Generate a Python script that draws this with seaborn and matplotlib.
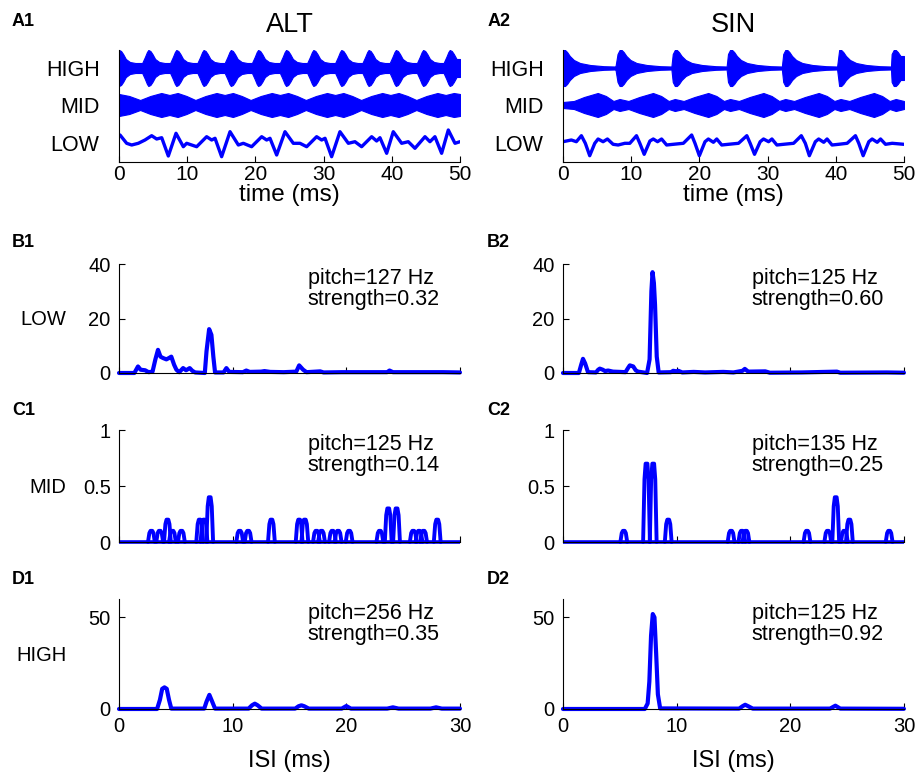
"""
Recreation of a two-column figure: band-limited waveforms of ALT and SIN
stimuli (row A) and the inter-spike-interval histograms for the LOW, MID
and HIGH channels (rows B-D).
"""

import pandas as pd
import seaborn as sns

from matplotlib import pyplot as plt

BLUE = '#0000ff'

# ---------------- row A: waveforms (time in ms) ----------------
row_names = ['HIGH', 'MID', 'LOW']
row_centers = [94, 57, 19]

# burst times of the HIGH channel
alt_high_bursts = [0.0, 4.3, 8.4, 12.4, 16.4, 20.4, 24.5, 28.5, 32.6, 36.6,
                   40.6, 44.6, 48.5]
sin_high_bursts = [0.0, 8.3, 16.4, 24.5, 32.6, 40.5, 48.5]

# envelope of one burst (offset ms, half amplitude)
alt_burst_offsets = [-0.9, -0.5, -0.2, 0.0, 0.3, 0.6, 1.0, 1.6, 2.4]
alt_burst_amps = [5, 11, 16, 18, 17, 14, 9, 6, 5]
sin_burst_offsets = [-0.6, -0.3, 0.0, 0.3, 0.6, 1.0, 1.6, 2.5, 4.0, 6.0,
                     7.6]
sin_burst_amps = [1.5, 14, 18, 18, 16, 12, 8, 5, 3, 1.8, 1.5]

# MID envelope (time, half amplitude)
alt_mid_t = [0, 1.5, 3.1, 4.6, 6.2, 7.4, 8.6, 9.9, 11.2, 12.7, 14.3, 15.5,
             16.7, 18.0, 19.3, 20.8, 22.4, 23.6, 24.8, 26.1, 27.4, 28.9,
             30.5, 31.7, 32.9, 34.2, 35.5, 37.0, 38.6, 39.8, 41.0, 42.3,
             43.6, 45.1, 46.7, 47.9, 49.1, 50]
alt_mid_a = [11, 9, 5, 9, 12, 10, 12, 9, 5, 9, 12, 10, 12, 9, 5, 9, 12, 10,
             12, 9, 5, 9, 12, 10, 12, 9, 5, 9, 12, 10, 12, 9, 5, 9, 12, 10,
             12, 11]
sin_mid_t = [0, 1.6, 3.1, 5.1, 6.3, 7.4, 8.3, 9.6, 11.2, 13.2, 14.4, 15.5,
             16.4, 17.7, 19.3, 21.3, 22.5, 23.6, 24.5, 25.8, 27.4, 29.4,
             30.6, 31.7, 32.6, 33.9, 35.5, 37.5, 38.7, 39.8, 40.7, 42.0,
             43.6, 45.6, 46.8, 47.9, 48.8, 50]
sin_mid_a = [3, 4, 8, 12, 9, 4, 6, 4, 8, 12, 9, 4, 6, 4, 8, 12, 9, 4, 6, 4,
             8, 12, 9, 4, 6, 4, 8, 12, 9, 4, 6, 4, 8, 12, 9, 4, 6, 4]

# LOW channel waveform
alt_low_t = [0.15, 1.12, 1.86, 2.83, 3.81, 4.79, 5.52, 6.26, 7.23, 8.36,
             9.43, 9.92, 11.39, 12.85, 13.59, 14.08, 15.05, 16.28, 17.5,
             18.23, 19.45, 20.92, 21.65, 22.14, 23.12, 24.34, 25.56, 26.54,
             27.52, 28.98, 29.72, 30.21, 31.18, 32.4, 33.63, 34.6, 35.58,
             37.05, 37.78, 38.27, 39.25, 40.22, 41.45, 42.42, 43.4, 44.87,
             45.6, 46.33, 47.31, 48.29, 49.27, 50.0]
alt_low_v = [27, 18.7, 17, 18.7, 22, 26.3, 23, 24.3, 6, 28.7, 15.3, 18.7,
             15.3, 25.3, 22, 23.7, 5.3, 30.3, 17, 18.7, 15.3, 25.3, 22, 23.7,
             7, 30.3, 18.7, 18.7, 15.3, 25.3, 22, 23.7, 5.3, 30.3, 18.7,
             20.3, 15.3, 25.3, 21, 24.3, 8.7, 30.3, 18.7, 20.3, 13.7, 25.3,
             20.3, 25.3, 8.7, 32, 18.7, 20.3]
sin_low_t = [0, 1.23, 1.96, 2.7, 3.28, 3.92, 4.66, 5.15, 5.88, 6.52, 7.35,
             8.09, 9.07, 9.8, 10.78, 11.27, 11.91, 12.75, 13.24, 13.87,
             14.46, 15.2, 16.18, 17.65, 18.87, 19.36, 20.0, 20.83, 21.32,
             22.06, 22.55, 23.28, 24.26, 25.74, 26.96, 27.45, 28.09, 28.92,
             29.41, 30.15, 30.64, 31.37, 32.35, 33.82, 34.95, 35.54, 36.13,
             37.01, 37.5, 38.24, 38.73, 39.46, 40.44, 41.67, 42.89, 43.38,
             44.02, 44.85, 45.34, 46.08, 46.57, 47.3, 48.28, 50]
sin_low_v = [20.3, 22, 20.3, 26.3, 18.7, 6.3, 18.7, 23, 20.3, 23, 17.7, 17,
             18.7, 18.7, 26.3, 18.7, 7.7, 21, 23, 20.3, 23, 17, 17.7, 18.7,
             27, 18.7, 6.3, 20.3, 23, 19.7, 23, 17, 17.7, 18.7, 26.3, 18.7,
             7.7, 20.3, 23, 20.3, 23, 17, 17.7, 18.7, 26.3, 18.7, 6.3, 20.3,
             23, 19.7, 23, 17, 17.7, 18.7, 26.3, 18.7, 6.3, 20.3, 23, 19.7,
             23, 17.7, 18.7, 17.7]

# ---------------- rows B-D: ISI histograms (ISI in ms) ----------------
b1_t = [0, 1.35, 1.67, 1.9, 2.3, 2.6, 2.95, 3.2, 3.43, 3.65, 3.87, 4.17,
        4.4, 4.6, 4.85, 5.05, 5.3, 5.64, 5.9, 6.22, 6.45, 6.7, 7.55, 7.7,
        7.93, 8.13, 8.3, 8.45, 9.2, 9.45, 9.7, 10.9, 11.2, 11.5, 12.5, 12.8,
        13.3, 14.5, 15.6, 15.85, 16.2, 16.5, 17.7, 18.0, 19.6, 21.5, 23.6,
        23.8, 24.1, 26.5, 28.5, 30]
b1_n = [0, 0, 2.4, 1.2, 1.0, 0.3, 0.5, 5, 8.5, 6, 5.5, 5, 5.5, 6, 3, 1.2,
        0.3, 1.8, 1.0, 1.8, 0.8, 0.2, 0, 8, 16.1, 14, 6, 0.2, 0.2, 1.8, 0.4,
        0.3, 0.9, 0.4, 0.5, 0.7, 0.4, 0.3, 0.5, 2.8, 1.2, 0.3, 0.6, 0.2, 0.3,
        0.3, 0.3, 0.9, 0.3, 0.3, 0.3, 0.2]
b2_t = [0, 1.4, 1.6, 1.76, 1.95, 2.2, 2.9, 3.1, 3.24, 3.5, 3.7, 3.97, 4.4,
        5.0, 5.5, 5.75, 5.88, 6.18, 6.4, 6.6, 7.4, 7.62, 7.78, 7.88, 8.0,
        8.1, 8.25, 8.42, 9.5, 9.7, 10.0, 10.15, 10.5, 11.5, 12.5, 14.1, 15.0,
        15.8, 16.0, 16.3, 17.8, 18.2, 21.0, 24.1, 24.4, 28.5, 30]
b2_n = [0, 0, 3, 5.2, 3.5, 0.3, 0.2, 1.2, 1.6, 1.2, 0.7, 0.9, 0.5, 0.4, 0.3,
        2, 2.8, 2.4, 1.0, 0.5, 0, 5, 30, 37, 33, 25, 6, 0.2, 0.3, 0.8, 0.6,
        0.8, 0.2, 0.4, 0.2, 0.4, 0.2, 0.8, 1.5, 0.5, 0.6, 0.1, 0.2, 0.5, 0.1,
        0.2, 0.1]

c1_peaks = [2.85, 3.58, 4.26, 4.70, 5.49, 7.10, 7.48, 7.98, 10.62, 11.36,
            13.41, 15.85, 16.35, 17.37, 17.82, 18.78, 19.28, 20.25, 22.95,
            23.69, 24.42, 25.89, 26.4, 26.8, 28.0]
c1_heights = [0.1, 0.1, 0.2, 0.1, 0.1, 0.2, 0.2, 0.4, 0.1, 0.1, 0.2, 0.2,
              0.2, 0.1, 0.1, 0.1, 0.1, 0.1, 0.1, 0.3, 0.3, 0.1, 0.1, 0.1,
              0.2]
c2_peaks = [5.35, 7.35, 7.94, 9.26, 14.79, 15.74, 16.1, 21.47, 23.3, 24.0,
            24.76, 25.2, 28.7]
c2_heights = [0.1, 0.7, 0.7, 0.2, 0.1, 0.1, 0.1, 0.1, 0.1, 0.4, 0.1, 0.2,
              0.1]

d1_t = [0, 3.35, 3.6, 3.8, 4.0, 4.2, 4.4, 4.6, 7.5, 7.7, 7.95, 8.2, 8.45,
        11.4, 11.7, 11.95, 12.2, 12.55, 15.5, 15.8, 16.05, 16.3, 16.7, 19.6,
        20.0, 20.4, 23.6, 24.1, 24.6, 27.4, 27.9, 28.4, 30]
d1_n = [0, 0, 5, 11, 11.8, 11, 5, 0.2, 0.2, 4, 7.7, 4, 0.2, 0.2, 2, 2.9, 2,
        0.2, 0.2, 1.5, 2, 1.5, 0.2, 0.2, 1.6, 0.2, 0.2, 0.9, 0.2, 0.2, 0.9,
        0.2, 0.2]
d2_t = [0, 7.2, 7.45, 7.6, 7.75, 7.9, 8.05, 8.2, 8.35, 8.55, 15.5, 15.8,
        16.03, 16.3, 16.7, 23.5, 23.97, 24.4, 30]
d2_n = [0, 0, 3, 15, 40, 51.8, 50, 30, 8, 0.3, 0.2, 1.5, 2.3, 1.5, 0.2, 0.2,
        1.8, 0.2, 0.1]

pitch_labels = [['pitch=127 Hz\nstrength=0.32', 'pitch=125 Hz\nstrength=0.60'],
                ['pitch=125 Hz\nstrength=0.14', 'pitch=135 Hz\nstrength=0.25'],
                ['pitch=256 Hz\nstrength=0.35', 'pitch=125 Hz\nstrength=0.92']]
isi_rows = ['LOW', 'MID', 'HIGH']
isi_ylims = [40, 1, 60]
isi_yticks = [[0, 20, 40], [0, 0.5, 1], [0, 50]]


def burst_envelope(bursts, offsets, amps):
    """Joins one read-off burst envelope per burst time into one series."""
    t, a = [], []
    for b in bursts:
        for o, v in zip(offsets, amps):
            if 0 <= b + o <= 50 and (not t or b + o > t[-1]):
                t.append(b + o)
                a.append(v)
    if t[-1] < 50:
        t.append(50)
        a.append(a[-1])
    return t, a


def peaks_frame(peaks, heights):
    """Each histogram spike as a narrow bump, one unit per spike."""
    rows = []
    for i, (p, h) in enumerate(zip(peaks, heights)):
        for o, f in zip([-0.3, -0.18, -0.08, 0.08, 0.18, 0.3],
                        [0, 0.8, 1, 1, 0.8, 0]):
            rows.append({'peak': i, 'ISI': p + o, 'n': h * f})
    return pd.DataFrame(rows)


def draw_waveforms(ax, high, mid, low_t, low_v, title):
    for (t, a), c in zip([high, mid], row_centers[:2]):
        ax.fill_between(t, [c - v for v in a], [c + v for v in a],
                        color=BLUE, lw=0.8)
    sns.lineplot(x=low_t, y=low_v, ax=ax, color=BLUE, lw=2.4,
                 estimator=None, solid_joinstyle='round')
    ax.set_xlim(0, 50)
    ax.set_ylim(0, 112)
    ax.set_xticks(range(0, 51, 10))
    ax.set_yticks(row_centers)
    ax.set_yticklabels(row_names)
    ax.tick_params(axis='y', length=0, pad=14, labelsize=15.5)
    ax.tick_params(axis='x', direction='in', length=4, labelsize=15,
                   pad=2)
    ax.set_xlabel('time (ms)', fontsize=17.5, labelpad=0)
    ax.set_title(title, fontsize=19.5, pad=13)


def main():
    sns.set_style('ticks', rc={'text.color': 'black',
                               'axes.labelcolor': 'black',
                               'axes.edgecolor': 'black',
                               'xtick.color': 'black',
                               'ytick.color': 'black'})
    plt.rcParams['font.family'] = ['Liberation Sans', 'DejaVu Sans']
    plt.rcParams['axes.linewidth'] = 0.8

    fig = plt.figure(figsize=(9.19, 7.74), dpi=100)
    lefts = [0.1295, 0.6126]
    width = 0.371
    a_axes = [fig.add_axes([l, 0.7907, width, 0.1447]) for l in lefts]

    draw_waveforms(a_axes[0],
                   burst_envelope(alt_high_bursts, alt_burst_offsets,
                                  alt_burst_amps),
                   (alt_mid_t, alt_mid_a), alt_low_t, alt_low_v, 'ALT')
    draw_waveforms(a_axes[1],
                   burst_envelope(sin_high_bursts, sin_burst_offsets,
                                  sin_burst_amps),
                   (sin_mid_t, sin_mid_a), sin_low_t, sin_low_v, 'SIN')

    bottoms = [0.5181, 0.2997, 0.0840]
    heights = [0.1408, 0.1447, 0.1421]
    curves = [[(b1_t, b1_n), (b2_t, b2_n)],
              [peaks_frame(c1_peaks, c1_heights),
               peaks_frame(c2_peaks, c2_heights)],
              [(d1_t, d1_n), (d2_t, d2_n)]]

    for r in range(3):
        for c in range(2):
            ax = fig.add_axes([lefts[c], bottoms[r], width, heights[r]])
            data = curves[r][c]
            if r == 1:
                ax.plot([0, 30], [0, 0], color=BLUE, lw=2.6,
                        solid_capstyle='butt', clip_on=False)
                sns.lineplot(data=data, x='ISI', y='n', units='peak',
                             estimator=None, ax=ax, color=BLUE, lw=2.8)
            else:
                sns.lineplot(x=data[0], y=data[1], ax=ax, color=BLUE,
                             lw=3.0, estimator=None)
            for line in ax.lines:
                line.set_clip_on(False)
            ax.set_xlim(0, 30)
            ax.set_ylim(0, isi_ylims[r])
            ax.set_xticks([0, 10, 20, 30])
            ax.set_yticks(isi_yticks[r])
            ax.set_yticklabels([f'{v:g}' for v in isi_yticks[r]])
            ax.tick_params(direction='in', length=4, labelsize=14.5, pad=6)
            ax.set_xlabel('')
            ax.set_ylabel('')
            if r < 2:
                ax.set_xticklabels([])
            else:
                ax.set_xlabel('ISI (ms)', fontsize=17, labelpad=10)
            if c == 0:
                ax.text(-0.155, 0.49, isi_rows[r], transform=ax.transAxes,
                        ha='right', va='center', fontsize=14.5)
            ax.text(0.553, 0.965, pitch_labels[r][c], transform=ax.transAxes,
                    ha='left', va='top', fontsize=15.5, linespacing=1.0)
            sns.despine(ax=ax)

    for ax in a_axes:
        sns.despine(ax=ax)

    panel_y = [0.9716, 0.6873, 0.4690, 0.2519]
    for i, letter in enumerate('ABCD'):
        for c, x in enumerate([0.013, 0.530]):
            fig.text(x, panel_y[i], f'{letter}{c + 1}', fontsize=13,
                     fontweight='bold', va='center', ha='left')

    fig.savefig('out.png', dpi=100)


if __name__ == '__main__':
    main()
